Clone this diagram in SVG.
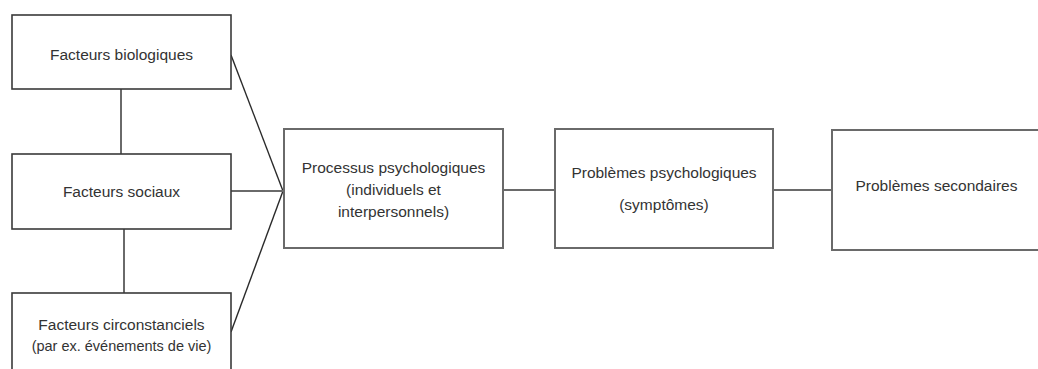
<svg xmlns="http://www.w3.org/2000/svg" width="1038" height="369" viewBox="0 0 1038 369">
  <style>
    .box { fill: #ffffff; stroke: #3a3a3a; stroke-width: 1.6; }
    .box2 { fill: #ffffff; stroke: #6a6a6a; stroke-width: 2; }
    .lbl { font-family: "Liberation Sans", Arial, sans-serif; font-size: 15.5px; fill: #333333; text-anchor: middle; }
    .con { stroke: #6a6a6a; stroke-width: 2; fill: none; }
    .diag { stroke: #2a2a2a; stroke-width: 1.4; fill: none; }
  </style>
  <rect width="1038" height="369" fill="#ffffff"/>
  <g id="connectors">
    <line class="con" x1="121" y1="88" x2="121" y2="154"/>
    <line class="con" x1="124" y1="229" x2="124" y2="293"/>
    <line class="diag" x1="231" y1="55" x2="283" y2="191"/>
    <line class="diag" x1="231" y1="332" x2="283" y2="191"/>
    <line class="con" x1="231" y1="191" x2="283" y2="191"/>
    <line class="con" x1="503" y1="190" x2="555" y2="190"/>
    <line class="con" x1="773" y1="190" x2="832" y2="190"/>
  </g>
  <g id="node-bio">
    <rect class="box" x="12" y="15" width="219" height="74"/>
    <text class="lbl" x="121.5" y="60">Facteurs biologiques</text>
  </g>
  <g id="node-sociaux">
    <rect class="box" x="12" y="154" width="219" height="75"/>
    <text class="lbl" x="121.5" y="197">Facteurs sociaux</text>
  </g>
  <g id="node-circ">
    <rect class="box" x="12" y="293" width="219" height="90"/>
    <text class="lbl" x="121.5" y="330">Facteurs circonstanciels</text>
    <text class="lbl" x="121.5" y="351" style="font-size:14.5px">(par ex. événements de vie)</text>
  </g>
  <g id="node-processus">
    <rect class="box2" x="284" y="129" width="219" height="119"/>
    <text class="lbl" x="393.5" y="173">Processus psychologiques</text>
    <text class="lbl" x="393.5" y="195">(individuels et</text>
    <text class="lbl" x="393.5" y="217">interpersonnels)</text>
  </g>
  <g id="node-problemes">
    <rect class="box2" x="555" y="129" width="218" height="119"/>
    <text class="lbl" x="664" y="178">Problèmes psychologiques</text>
    <text class="lbl" x="664" y="210">(symptômes)</text>
  </g>
  <g id="node-secondaires">
    <rect class="box2" x="832" y="130" width="220" height="120"/>
    <text class="lbl" x="936.5" y="191">Problèmes secondaires</text>
  </g>
</svg>
